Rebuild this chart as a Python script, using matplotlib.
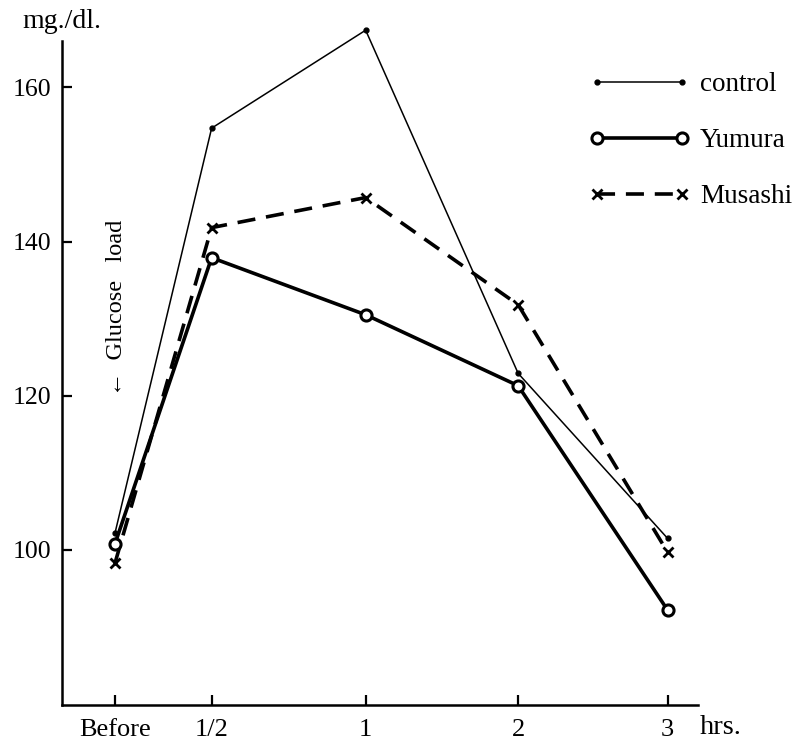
import numpy as np
import matplotlib.pyplot as plt

plt.rcParams['font.family'] = 'Liberation Serif'

times = ['Before', '1/2', '1', '2', '3']
# horizontal placement of the time points as printed (not to scale)
xpos = np.array([0, 0.64, 1.66, 2.67, 3.66])

control = [102.2, 154.7, 167.4, 122.9, 101.5]
yumura = [100.8, 137.9, 130.5, 121.3, 92.2]
musashi = [98.3, 141.8, 145.7, 131.8, 99.7]

W, H = 799, 745
fig = plt.figure(figsize=(W / 100, H / 100), dpi=100)
ax = fig.add_axes([62 / W, 40 / H, 636 / W, 664 / H])

ax.plot(xpos, control, '-', color='black', lw=1.1, marker='o', ms=3.5,
        clip_on=False, label='control')
ax.plot(xpos, yumura, '-', color='black', lw=2.6, marker='o', ms=8,
        mfc='white', mew=2.2, clip_on=False, label='Yumura', zorder=4)
ax.plot(xpos, musashi, '--', color='black', lw=2.6, dashes=(5, 3),
        marker='x', ms=7, mew=2, clip_on=False, label='Musashi', zorder=3)

ax.set_xlim(-0.351, 3.861)
ax.set_ylim(79.9, 166.0)
ax.set_xticks(xpos)
ax.set_xticklabels(times, fontsize=19)
ax.set_yticks([100, 120, 140, 160])

for s in ['top', 'right']:
    ax.spines[s].set_visible(False)
for s in ['left', 'bottom']:
    ax.spines[s].set_linewidth(1.8)
ax.tick_params(direction='in', length=7, width=1.6, labelsize=18.5, pad=8)
ax.tick_params(axis='x', pad=10, labelsize=19)

fig.text(22 / W, 1 - 22 / H, 'mg./dl.', fontsize=20, va='center', ha='left')
fig.text(700 / W, 1 - 728 / H, 'hrs.', fontsize=20.5, va='center', ha='left')
fig.text(117 / W, 1 - 308 / H, '\u2190  Glucose   load', fontsize=17.5,
         rotation=90, ha='center', va='center')

ax.legend(loc='upper left', bbox_to_anchor=(589 / W, 1 - 72 / H),
          bbox_transform=fig.transFigure, frameon=False, numpoints=2,
          handlelength=3.75, handletextpad=0.35, labelspacing=1.15,
          borderpad=0, borderaxespad=0, fontsize=19.5)

fig.savefig('out.png', dpi=100)
